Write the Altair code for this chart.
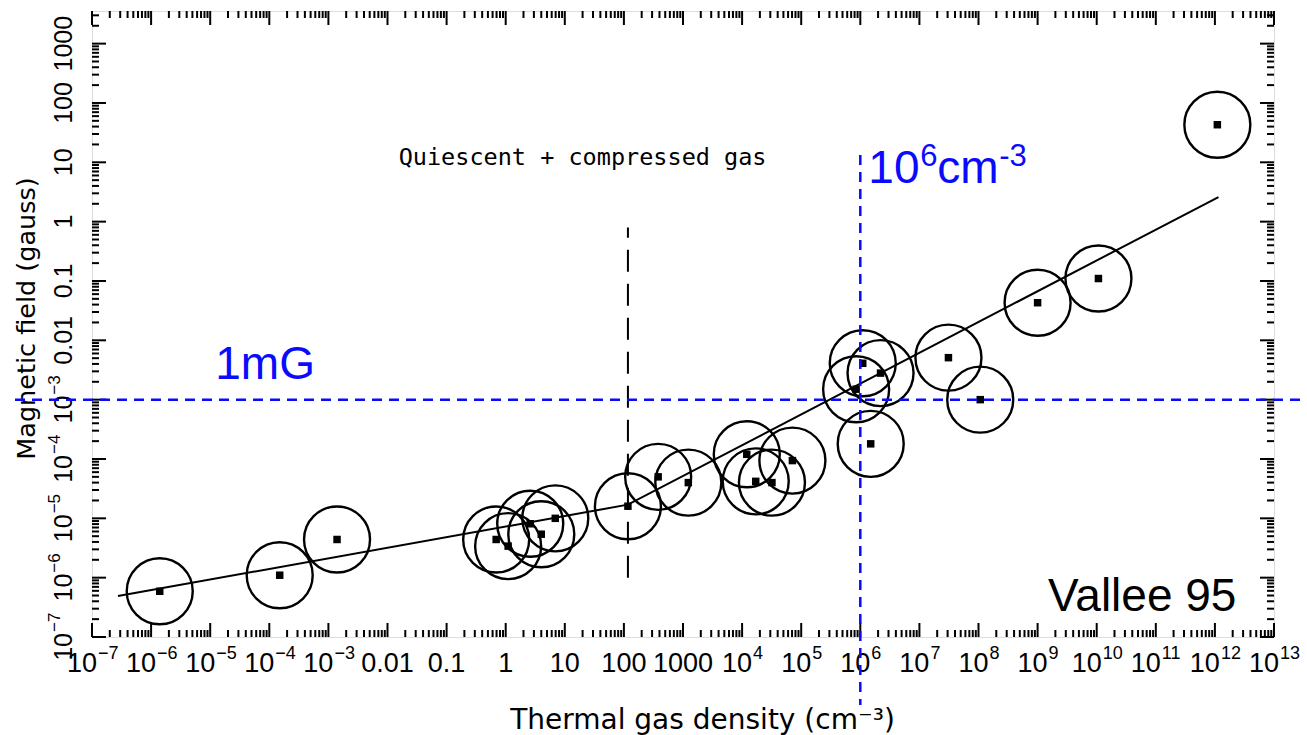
import altair as alt
import pandas as pd

# ---- data (Vallee 1995 compilation) ----
density = [1.4e-6, 1.5e-4, 1.4e-3, 0.69, 1.1, 2.6, 4.0, 6.9, 117, 380, 1230,
           1.2e4, 1.7e4, 3.2e4, 7.1e4, 8.5e5, 1.1e6, 2.2e6, 1.5e6, 3.1e7,
           1.07e8, 1.0e9, 1.07e10, 1.1e12]
field_B = [5.9e-7, 1.1e-6, 4.4e-6, 4.4e-6, 3.4e-6, 8.1e-6, 5.4e-6, 1.0e-5,
           1.6e-5, 5.0e-5, 4.0e-5, 1.2e-4, 4.2e-5, 4.0e-5, 9.4e-5, 1.5e-3,
           4.1e-3, 2.8e-3, 1.8e-4, 5.1e-3, 1.0e-3, 0.043, 0.11, 43]

fit_density = [2.75e-7, 117, 1.15e12]
fit_B = [4.9e-7, 1.7e-5, 2.6]

x_tick_values = [1e-7, 1e-6, 1e-5, 1e-4, 1e-3, 0.01, 0.1, 1, 10, 100, 1000,
                 1e4, 1e5, 1e6, 1e7, 1e8, 1e9, 1e10, 1e11, 1e12, 1e13]
x_tick_base = ["10", "10", "10", "10", "10", "0.01", "0.1", "1", "10", "100", "1000",
               "10", "10", "10", "10", "10", "10", "10", "10", "10", "10"]
x_tick_exp = ["−7", "−6", "−5", "−4", "−3", "", "", "", "", "", "",
              "4", "5", "6", "7", "8", "9", "10", "11", "12", "13"]

y_tick_values = [1e-7, 1e-6, 1e-5, 1e-4, 1e-3, 0.01, 0.1, 1, 10, 100, 1000]
y_tick_base = ["10", "10", "10", "10", "10", "0.01", "0.1", "1", "10", "100", "1000"]
y_tick_exp = ["−7", "−6", "−5", "−4", "−3", "", "", "", "", "", ""]

W, H = 1182, 626
FONT = "Liberation Sans"
TFONT = "DejaVu Sans"
BLUE = "#0a0aff"

xscale = alt.Scale(type="log", domain=[1e-7, 1e13], nice=False)
yscale = alt.Scale(type="log", domain=[1e-7, 3548], nice=False)

x_minor = [m * 10.0 ** e for e in range(-7, 13) for m in range(2, 10)]
y_minor = [m * 10.0 ** e for e in range(-7, 4) for m in range(2, 10) if m * 10.0 ** e < 3548]

xaxis = alt.Axis(values=x_tick_values, labels=False, domain=False, ticks=False, grid=False,
                 title="Thermal gas density (cm⁻³)",
                 titleFont=TFONT, titleFontSize=28, titleFontWeight="normal",
                 titleColor="black", titleX=610, titleY=83, titleBaseline="middle",
                 titleAlign="center")
yaxis = alt.Axis(values=y_tick_values, labels=False, domain=False, ticks=False, grid=False,
                 title="Magnetic field (gauss)",
                 titleFont=TFONT, titleFontSize=25.5, titleFontWeight="normal",
                 titleColor="black", titleAngle=270, titleX=-66, titleY=307,
                 titleBaseline="middle", titleAlign="center")

pts = pd.DataFrame({"n": density, "B": field_B})
fit = pd.DataFrame({"n": fit_density, "B": fit_B})


def X(f="n"):
    return alt.X(f + ":Q", scale=xscale, axis=xaxis)


def Y(f="B"):
    return alt.Y(f + ":Q", scale=yscale, axis=yaxis)


TICK = dict(color="black", strokeWidth=2)
MAJ, MIN = 14, 7


def xticks(vals, L):
    d = pd.DataFrame({"n": vals})
    bot = alt.Chart(d).mark_rule(**TICK).encode(x=X(), y=alt.value(H), y2=alt.value(H - L))
    top = alt.Chart(d).mark_rule(**TICK).encode(x=X(), y=alt.value(0), y2=alt.value(L))
    return [bot, top]


def yticks(vals, L):
    d = pd.DataFrame({"B": vals})
    left = alt.Chart(d).mark_rule(**TICK).encode(y=Y(), x=alt.value(0), x2=alt.value(L))
    right = alt.Chart(d).mark_rule(**TICK).encode(y=Y(), x=alt.value(W), x2=alt.value(W - L))
    return [left, right]


ticks = (xticks(x_tick_values, MAJ) + xticks(x_minor, MIN)
         + yticks(y_tick_values, MAJ) + yticks(y_minor, MIN))

# ---- tick labels with real superscripts (base + raised exponent) ----
xl = pd.DataFrame({"n": x_tick_values, "base": x_tick_base, "exp": x_tick_exp})
xl["k"] = xl["exp"].str.len()
yl = pd.DataFrame({"B": y_tick_values, "base": y_tick_base, "exp": y_tick_exp})
yl["k"] = yl["exp"].str.len()

XF, XE = 27, 18
XBASE = H + 35
xlab = []
xlab.append(alt.Chart(xl[xl.k == 0]).mark_text(font=FONT, fontSize=XF, color="black",
                                                align="center", baseline="alphabetic").encode(
    x=X(), y=alt.value(XBASE), text="base:N"))
for k, off in [(1, 10), (2, 5)]:
    sub = xl[xl.k == k]
    xlab.append(alt.Chart(sub).mark_text(font=FONT, fontSize=XF, color="black", align="right",
                                         baseline="alphabetic", dx=off).encode(
        x=X(), y=alt.value(XBASE), text="base:N"))
    xlab.append(alt.Chart(sub).mark_text(font=FONT, fontSize=XE, color="black", align="left",
                                         baseline="alphabetic", dx=off + 1, dy=-13).encode(
        x=X(), y=alt.value(XBASE), text="exp:N"))

YF, YE = 25, 17
YBASE = -20
ylab = []
ylab.append(alt.Chart(yl[yl.k == 0]).mark_text(font=FONT, fontSize=YF, color="black", angle=270,
                                                align="center", baseline="alphabetic").encode(
    y=Y(), x=alt.value(YBASE), text="base:N"))
ysub = yl[yl.k == 2]
ylab.append(alt.Chart(ysub).mark_text(font=FONT, fontSize=YF, color="black", angle=270,
                                      align="right", baseline="alphabetic", dx=4).encode(
    y=Y(), x=alt.value(YBASE), text="base:N"))
ylab.append(alt.Chart(ysub).mark_text(font=FONT, fontSize=YE, color="black", angle=270,
                                      align="left", baseline="alphabetic", dx=5, dy=-12).encode(
    y=Y(), x=alt.value(YBASE), text="exp:N"))

# dashed divider at n = 100
div = pd.DataFrame({"n": [117], "B": [1e-6], "B2": [0.8]})
divider = alt.Chart(div).mark_rule(color="black", strokeWidth=2, strokeDash=[22, 12]).encode(
    x=X(), y=Y(), y2="B2:Q")

fitline = alt.Chart(fit).mark_line(color="black", strokeWidth=2).encode(x=X(), y=Y())

circles = alt.Chart(pts).mark_point(shape="circle", size=4356, filled=False,
                                    color="black", strokeWidth=2.4, opacity=1).encode(
    x=X(), y=Y())
squares = alt.Chart(pts).mark_point(shape="square", size=56, filled=True,
                                    color="black", opacity=1).encode(x=X(), y=Y())

hline = alt.Chart(pd.DataFrame({"B": [1e-3]})).mark_rule(
    color=BLUE, strokeWidth=2.5, strokeDash=[10, 7]).encode(
    y=Y(), x=alt.value(-77), x2=alt.value(W + 33))
vline = alt.Chart(pd.DataFrame({"n": [1e6]})).mark_rule(
    color=BLUE, strokeWidth=2.5, strokeDash=[10, 7]).encode(
    x=X(), y=alt.value(144), y2=alt.value(694))

# ---- annotations ----
quiet = pd.DataFrame({"n": [20], "B": [12], "t": ["Quiescent + compressed gas"]})
t_quiet = alt.Chart(quiet).mark_text(font="DejaVu Sans Mono", fontSize=23.5, color="black",
                                     align="center", baseline="middle").encode(
    x=X(), y=Y(), text="t:N")

dens = pd.DataFrame({"n": [1e6], "B": [4.5]})
AF, AE = 46, 31
t_dens = [
    alt.Chart(dens).mark_text(font=FONT, fontSize=AF, color=BLUE, align="left",
                              baseline="alphabetic", dx=8, text="10").encode(x=X(), y=Y()),
    alt.Chart(dens).mark_text(font=FONT, fontSize=AE, color=BLUE, align="left",
                              baseline="alphabetic", dx=60, dy=-17, text="6").encode(x=X(), y=Y()),
    alt.Chart(dens).mark_text(font=FONT, fontSize=AF, color=BLUE, align="left",
                              baseline="alphabetic", dx=77, text="cm").encode(x=X(), y=Y()),
    alt.Chart(dens).mark_text(font=FONT, fontSize=AE, color=BLUE, align="left",
                              baseline="alphabetic", dx=139, dy=-17, text="-3").encode(x=X(), y=Y()),
]

mg = pd.DataFrame({"n": [8.5e-5], "B": [3.9e-3], "t": ["1mG"]})
t_mg = alt.Chart(mg).mark_text(font=FONT, fontSize=46, color=BLUE,
                               align="center", baseline="middle").encode(
    x=X(), y=Y(), text="t:N")
val = pd.DataFrame({"n": [5.9e10], "B": [4.7e-7], "t": ["Vallee 95"]})
t_val = alt.Chart(val).mark_text(font=FONT, fontSize=46, color="black",
                                 align="center", baseline="middle").encode(
    x=X(), y=Y(), text="t:N")

chart = alt.layer(circles, *ticks, *xlab, *ylab, divider, fitline, squares, hline, vline,
                  t_quiet, *t_dens, t_mg, t_val).properties(
    width=W, height=H,
    padding={"left": 92, "top": 11, "right": 33, "bottom": 98},
    autosize=alt.AutoSizeParams(type="none"),
).configure_view(stroke="black", strokeWidth=2.5).configure(background="white")

chart.save("out.html", embed_options={"renderer": "svg", "actions": False})
